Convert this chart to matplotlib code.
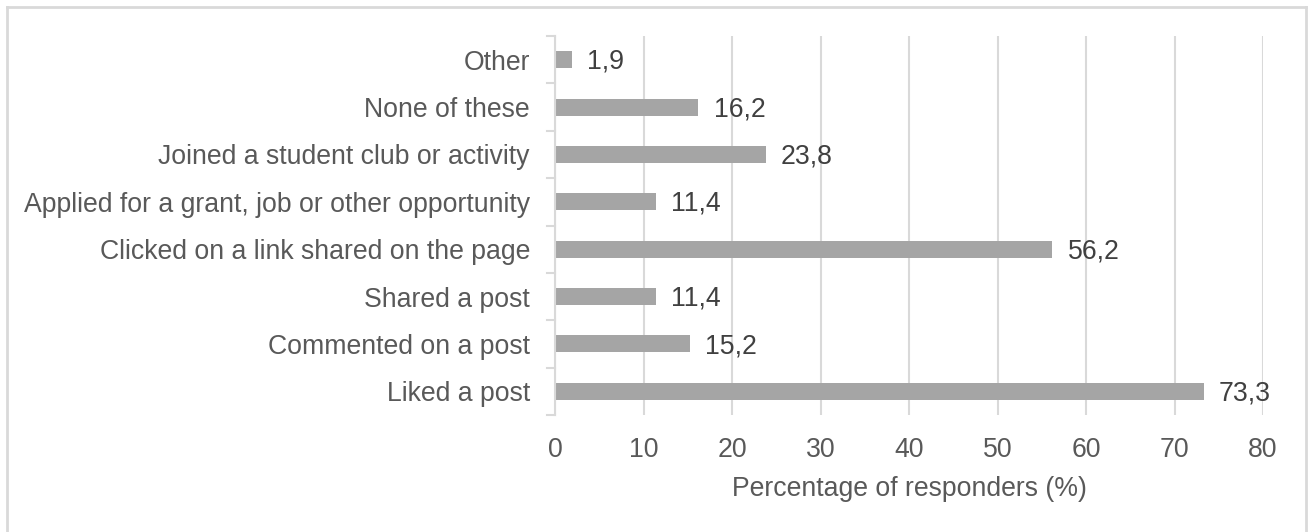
import matplotlib
matplotlib.use("Agg")
import matplotlib.pyplot as plt
from matplotlib.lines import Line2D
from matplotlib.transforms import blended_transform_factory

categories = [
    "Liked a post",
    "Commented on a post",
    "Shared a post",
    "Clicked on a link shared on the page",
    "Applied for a grant, job or other opportunity",
    "Joined a student club or activity",
    "None of these",
    "Other",
]
values = [73.3, 15.2, 11.4, 56.2, 11.4, 23.8, 16.2, 1.9]
x_ticks = [0, 10, 20, 30, 40, 50, 60, 70, 80]
x_label = "Percentage of responders (%)"

plt.rcParams["font.family"] = ["Liberation Sans", "DejaVu Sans"]

W, H = 1309, 532
fig = plt.figure(figsize=(W / 100, H / 100), dpi=100)

# axes placement in pixels
left, right, top, bottom = 555, 1263, 36, 415
ax = fig.add_axes([left / W, 1 - bottom / H, (right - left) / W, (bottom - top) / H])

grid_c = "#D9D9D9"
text_c = "#595959"
bar_c = "#A5A5A5"
fs = 19.2

y = list(range(len(categories)))
ax.barh(y, values, height=0.36, color=bar_c, zorder=3)
for yi, v in zip(y, values):
    ax.annotate(f"{v:.1f}".replace(".", ","), (v, yi), xytext=(11, -1.5),
                textcoords="offset points", va="center", ha="left",
                fontsize=fs, color="#404040", zorder=4)

ax.set_xlim(0, 80)
ax.set_ylim(-0.5, len(categories) - 0.5)
ax.set_xticks(x_ticks)
ax.set_xticklabels([str(t) for t in x_ticks], fontsize=fs, color=text_c)
ax.set_yticks(y)
ax.set_yticklabels(categories, fontsize=fs, color=text_c)
ax.tick_params(axis="y", length=0, pad=18)
ax.tick_params(axis="x", length=0, pad=16)
ax.xaxis.grid(True, color=grid_c, linewidth=1.5, zorder=0)
for s in ["top", "right", "bottom"]:
    ax.spines[s].set_visible(False)
ax.spines["left"].set_color(grid_c)
ax.spines["left"].set_linewidth(1.5)
ax.spines["left"].set_zorder(5)

# category boundary tick marks on the left axis
tr = blended_transform_factory(fig.transFigure, ax.transData)
for b in [i - 0.5 for i in range(len(categories) + 1)]:
    ax.add_line(Line2D([(left - 8) / W, left / W], [b, b], transform=tr,
                       color=grid_c, linewidth=1.5, clip_on=False))

ax.set_xlabel(x_label, fontsize=fs, color=text_c, labelpad=9)

# outer frame (no bottom edge)
fig.add_artist(Line2D([7 / W, 7 / W], [0, 1 - 7 / H], color=grid_c, linewidth=2))
fig.add_artist(Line2D([7 / W, 1306 / W], [1 - 7 / H, 1 - 7 / H], color=grid_c, linewidth=2))
fig.add_artist(Line2D([1306 / W, 1306 / W], [0, 1 - 7 / H], color=grid_c, linewidth=2))

fig.savefig("out.png", dpi=100)
